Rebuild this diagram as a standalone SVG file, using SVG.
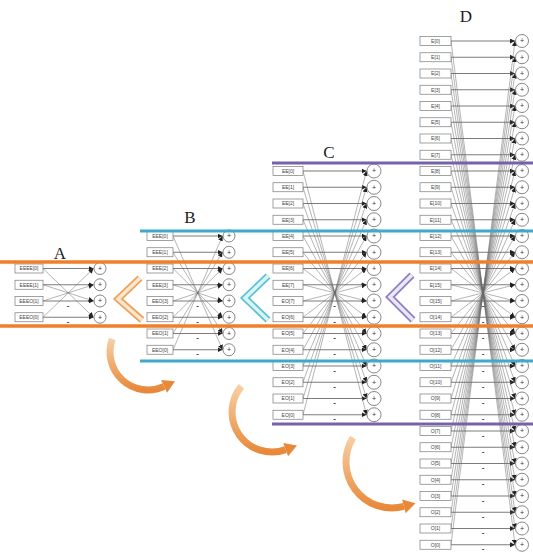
<svg xmlns="http://www.w3.org/2000/svg" width="533" height="556" viewBox="0 0 533 556">
<defs>
<style>
.bx{fill:#fff;stroke:#7a7a7a;stroke-width:0.7}
.lb{font-family:"Liberation Sans",Arial,sans-serif;font-size:5px;fill:#444;text-anchor:middle}
.ci{fill:#fff;stroke:#555;stroke-width:0.7}
.pl{font-family:"Liberation Sans",Arial,sans-serif;font-size:7px;fill:#333;text-anchor:middle}
.s{stroke:#444;stroke-width:0.7;fill:none;marker-end:url(#ah)}
.x{stroke:#6a6a6a;stroke-width:0.5;fill:none;marker-end:url(#ah)}
.mn{font-family:"Liberation Sans",Arial,sans-serif;font-size:8px;font-weight:bold;fill:#333;text-anchor:middle}
.ttl{font-family:"Liberation Serif","Times New Roman",serif;font-size:17px;fill:#222;text-anchor:middle}
.band-o{stroke:#f07f2a;stroke-width:3.5}
.band-t{stroke:#3fa9c6;stroke-width:3}
.band-p{stroke:#7463a8;stroke-width:3}
.arc{fill:none;stroke-width:7;stroke-linecap:butt}
</style>
<marker id="ah" viewBox="0 0 10 10" refX="10" refY="5" markerWidth="5" markerHeight="5" markerUnits="userSpaceOnUse" orient="auto"><path d="M0,0 L10,5 L0,10 z" fill="#222"/></marker>
<linearGradient id="og" x1="0" y1="0" x2="0" y2="1"><stop offset="0" stop-color="#f7cfa4"/><stop offset="1" stop-color="#e8893a"/></linearGradient>
</defs>
<rect width="533" height="556" fill="#fff"/>

<!-- titles -->
<text class="ttl" x="60" y="259">A</text>
<text class="ttl" x="190" y="223">B</text>
<text class="ttl" x="329" y="158">C</text>
<text class="ttl" x="466" y="22">D</text>

<g id="connectors">
<!-- A -->
<path class="s" d="M43 268.5H93.5"/><path class="s" d="M43 284.75H93.5"/><path class="s" d="M43 301H93.5"/><path class="s" d="M43 317.25H93.5"/>
<path class="x" d="M43 268.5L93.5 317.25"/><path class="x" d="M43 284.75L93.5 301"/><path class="x" d="M43 301L93.5 284.75"/><path class="x" d="M43 317.25L93.5 268.5"/>
<!-- B -->
<path class="s" d="M173 236H222.5"/><path class="s" d="M173 252.25H222.5"/><path class="s" d="M173 268.5H222.5"/><path class="s" d="M173 284.75H222.5"/>
<path class="s" d="M173 301H222.5"/><path class="s" d="M173 317.25H222.5"/><path class="s" d="M173 333.5H222.5"/><path class="s" d="M173 349.75H222.5"/>
<path class="x" d="M173 236L222.5 349.75"/><path class="x" d="M173 252.25L222.5 333.5"/><path class="x" d="M173 268.5L222.5 317.25"/><path class="x" d="M173 284.75L222.5 301"/>
<path class="x" d="M173 301L222.5 284.75"/><path class="x" d="M173 317.25L222.5 268.5"/><path class="x" d="M173 333.5L222.5 252.25"/><path class="x" d="M173 349.75L222.5 236"/>
<!-- C -->
<path class="s" d="M303 171H366.5"/><path class="s" d="M303 187.25H366.5"/><path class="s" d="M303 203.5H366.5"/><path class="s" d="M303 219.75H366.5"/>
<path class="s" d="M303 236H366.5"/><path class="s" d="M303 252.25H366.5"/><path class="s" d="M303 268.5H366.5"/><path class="s" d="M303 284.75H366.5"/>
<path class="s" d="M303 301H366.5"/><path class="s" d="M303 317.25H366.5"/><path class="s" d="M303 333.5H366.5"/><path class="s" d="M303 349.75H366.5"/>
<path class="s" d="M303 366H366.5"/><path class="s" d="M303 382.25H366.5"/><path class="s" d="M303 398.5H366.5"/><path class="s" d="M303 414.75H366.5"/>
<path class="x" d="M303 171L366.5 414.75"/><path class="x" d="M303 187.25L366.5 398.5"/><path class="x" d="M303 203.5L366.5 382.25"/><path class="x" d="M303 219.75L366.5 366"/>
<path class="x" d="M303 236L366.5 349.75"/><path class="x" d="M303 252.25L366.5 333.5"/><path class="x" d="M303 268.5L366.5 317.25"/><path class="x" d="M303 284.75L366.5 301"/>
<path class="x" d="M303 301L366.5 284.75"/><path class="x" d="M303 317.25L366.5 268.5"/><path class="x" d="M303 333.5L366.5 252.25"/><path class="x" d="M303 349.75L366.5 236"/>
<path class="x" d="M303 366L366.5 219.75"/><path class="x" d="M303 382.25L366.5 203.5"/><path class="x" d="M303 398.5L366.5 187.25"/><path class="x" d="M303 414.75L366.5 171"/>
<!-- D -->
<path class="s" d="M451 41H515"/><path class="s" d="M451 57.25H515"/><path class="s" d="M451 73.5H515"/><path class="s" d="M451 89.75H515"/>
<path class="s" d="M451 106H515"/><path class="s" d="M451 122.25H515"/><path class="s" d="M451 138.5H515"/><path class="s" d="M451 154.75H515"/>
<path class="s" d="M451 171H515"/><path class="s" d="M451 187.25H515"/><path class="s" d="M451 203.5H515"/><path class="s" d="M451 219.75H515"/>
<path class="s" d="M451 236H515"/><path class="s" d="M451 252.25H515"/><path class="s" d="M451 268.5H515"/><path class="s" d="M451 284.75H515"/>
<path class="s" d="M451 301H515"/><path class="s" d="M451 317.25H515"/><path class="s" d="M451 333.5H515"/><path class="s" d="M451 349.75H515"/>
<path class="s" d="M451 366H515"/><path class="s" d="M451 382.25H515"/><path class="s" d="M451 398.5H515"/><path class="s" d="M451 414.75H515"/>
<path class="s" d="M451 431H515"/><path class="s" d="M451 447.25H515"/><path class="s" d="M451 463.5H515"/><path class="s" d="M451 479.75H515"/>
<path class="s" d="M451 496H515"/><path class="s" d="M451 512.25H515"/><path class="s" d="M451 528.5H515"/><path class="s" d="M451 544.75H515"/>
<path class="x" d="M451 41L515 544.75"/><path class="x" d="M451 57.25L515 528.5"/><path class="x" d="M451 73.5L515 512.25"/><path class="x" d="M451 89.75L515 496"/>
<path class="x" d="M451 106L515 479.75"/><path class="x" d="M451 122.25L515 463.5"/><path class="x" d="M451 138.5L515 447.25"/><path class="x" d="M451 154.75L515 431"/>
<path class="x" d="M451 171L515 414.75"/><path class="x" d="M451 187.25L515 398.5"/><path class="x" d="M451 203.5L515 382.25"/><path class="x" d="M451 219.75L515 366"/>
<path class="x" d="M451 236L515 349.75"/><path class="x" d="M451 252.25L515 333.5"/><path class="x" d="M451 268.5L515 317.25"/><path class="x" d="M451 284.75L515 301"/>
<path class="x" d="M451 301L515 284.75"/><path class="x" d="M451 317.25L515 268.5"/><path class="x" d="M451 333.5L515 252.25"/><path class="x" d="M451 349.75L515 236"/>
<path class="x" d="M451 366L515 219.75"/><path class="x" d="M451 382.25L515 203.5"/><path class="x" d="M451 398.5L515 187.25"/><path class="x" d="M451 414.75L515 171"/>
<path class="x" d="M451 431L515 154.75"/><path class="x" d="M451 447.25L515 138.5"/><path class="x" d="M451 463.5L515 122.25"/><path class="x" d="M451 479.75L515 106"/>
<path class="x" d="M451 496L515 89.75"/><path class="x" d="M451 512.25L515 73.5"/><path class="x" d="M451 528.5L515 57.25"/><path class="x" d="M451 544.75L515 41"/>
</g>

<!-- minus marks -->
<g id="minus">
<text class="mn" x="68" y="307.5">-</text><text class="mn" x="68" y="323.75">-</text>
<text class="mn" x="197.5" y="307.5">-</text><text class="mn" x="197.5" y="323.75">-</text><text class="mn" x="197.5" y="340">-</text><text class="mn" x="197.5" y="356.25">-</text>
<text class="mn" x="334.5" y="307.5">-</text><text class="mn" x="334.5" y="323.75">-</text><text class="mn" x="334.5" y="340">-</text><text class="mn" x="334.5" y="356.25">-</text>
<text class="mn" x="334.5" y="372.5">-</text><text class="mn" x="334.5" y="388.75">-</text><text class="mn" x="334.5" y="405">-</text><text class="mn" x="334.5" y="421.25">-</text>
<text class="mn" x="483" y="307.5">-</text><text class="mn" x="483" y="323.75">-</text><text class="mn" x="483" y="340">-</text><text class="mn" x="483" y="356.25">-</text>
<text class="mn" x="483" y="372.5">-</text><text class="mn" x="483" y="388.75">-</text><text class="mn" x="483" y="405">-</text><text class="mn" x="483" y="421.25">-</text>
<text class="mn" x="483" y="437.5">-</text><text class="mn" x="483" y="453.75">-</text><text class="mn" x="483" y="470">-</text><text class="mn" x="483" y="486.25">-</text>
<text class="mn" x="483" y="502.5">-</text><text class="mn" x="483" y="518.75">-</text><text class="mn" x="483" y="535">-</text><text class="mn" x="483" y="551.25">-</text>
</g>

<!-- A nodes -->
<g id="A_i0" transform="translate(15,268.5)"><rect class="bx" y="-4.5" width="28" height="9"/><text class="lb" x="14" y="1.8">EEEE[0]</text></g>
<g id="A_i1" transform="translate(15,284.75)"><rect class="bx" y="-4.5" width="28" height="9"/><text class="lb" x="14" y="1.8">EEEE[1]</text></g>
<g id="A_i2" transform="translate(15,301)"><rect class="bx" y="-4.5" width="28" height="9"/><text class="lb" x="14" y="1.8">EEEO[1]</text></g>
<g id="A_i3" transform="translate(15,317.25)"><rect class="bx" y="-4.5" width="28" height="9"/><text class="lb" x="14" y="1.8">EEEO[0]</text></g>
<g id="A_o0" transform="translate(100,268.5)"><circle class="ci" r="6"/><text class="pl" y="2.3">+</text></g>
<g id="A_o1" transform="translate(100,284.75)"><circle class="ci" r="6"/><text class="pl" y="2.3">+</text></g>
<g id="A_o2" transform="translate(100,301)"><circle class="ci" r="6"/><text class="pl" y="2.3">+</text></g>
<g id="A_o3" transform="translate(100,317.25)"><circle class="ci" r="6"/><text class="pl" y="2.3">+</text></g>

<!-- B nodes -->
<g id="B_i0" transform="translate(147,236)"><rect class="bx" y="-4.5" width="26" height="9"/><text class="lb" x="13" y="1.8">EEE[0]</text></g>
<g id="B_i1" transform="translate(147,252.25)"><rect class="bx" y="-4.5" width="26" height="9"/><text class="lb" x="13" y="1.8">EEE[1]</text></g>
<g id="B_i2" transform="translate(147,268.5)"><rect class="bx" y="-4.5" width="26" height="9"/><text class="lb" x="13" y="1.8">EEE[2]</text></g>
<g id="B_i3" transform="translate(147,284.75)"><rect class="bx" y="-4.5" width="26" height="9"/><text class="lb" x="13" y="1.8">EEE[3]</text></g>
<g id="B_i4" transform="translate(147,301)"><rect class="bx" y="-4.5" width="26" height="9"/><text class="lb" x="13" y="1.8">EEO[3]</text></g>
<g id="B_i5" transform="translate(147,317.25)"><rect class="bx" y="-4.5" width="26" height="9"/><text class="lb" x="13" y="1.8">EEO[2]</text></g>
<g id="B_i6" transform="translate(147,333.5)"><rect class="bx" y="-4.5" width="26" height="9"/><text class="lb" x="13" y="1.8">EEO[1]</text></g>
<g id="B_i7" transform="translate(147,349.75)"><rect class="bx" y="-4.5" width="26" height="9"/><text class="lb" x="13" y="1.8">EEO[0]</text></g>
<g id="B_o0" transform="translate(229,236)"><circle class="ci" r="6"/><text class="pl" y="2.3">+</text></g>
<g id="B_o1" transform="translate(229,252.25)"><circle class="ci" r="6"/><text class="pl" y="2.3">+</text></g>
<g id="B_o2" transform="translate(229,268.5)"><circle class="ci" r="6"/><text class="pl" y="2.3">+</text></g>
<g id="B_o3" transform="translate(229,284.75)"><circle class="ci" r="6"/><text class="pl" y="2.3">+</text></g>
<g id="B_o4" transform="translate(229,301)"><circle class="ci" r="6"/><text class="pl" y="2.3">+</text></g>
<g id="B_o5" transform="translate(229,317.25)"><circle class="ci" r="6"/><text class="pl" y="2.3">+</text></g>
<g id="B_o6" transform="translate(229,333.5)"><circle class="ci" r="6"/><text class="pl" y="2.3">+</text></g>
<g id="B_o7" transform="translate(229,349.75)"><circle class="ci" r="6"/><text class="pl" y="2.3">+</text></g>

<!-- C nodes -->
<g id="C_i0" transform="translate(273,171)"><rect class="bx" y="-4.5" width="30" height="9"/><text class="lb" x="15" y="1.8">EE[0]</text></g>
<g id="C_i1" transform="translate(273,187.25)"><rect class="bx" y="-4.5" width="30" height="9"/><text class="lb" x="15" y="1.8">EE[1]</text></g>
<g id="C_i2" transform="translate(273,203.5)"><rect class="bx" y="-4.5" width="30" height="9"/><text class="lb" x="15" y="1.8">EE[2]</text></g>
<g id="C_i3" transform="translate(273,219.75)"><rect class="bx" y="-4.5" width="30" height="9"/><text class="lb" x="15" y="1.8">EE[3]</text></g>
<g id="C_i4" transform="translate(273,236)"><rect class="bx" y="-4.5" width="30" height="9"/><text class="lb" x="15" y="1.8">EE[4]</text></g>
<g id="C_i5" transform="translate(273,252.25)"><rect class="bx" y="-4.5" width="30" height="9"/><text class="lb" x="15" y="1.8">EE[5]</text></g>
<g id="C_i6" transform="translate(273,268.5)"><rect class="bx" y="-4.5" width="30" height="9"/><text class="lb" x="15" y="1.8">EE[6]</text></g>
<g id="C_i7" transform="translate(273,284.75)"><rect class="bx" y="-4.5" width="30" height="9"/><text class="lb" x="15" y="1.8">EE[7]</text></g>
<g id="C_i8" transform="translate(273,301)"><rect class="bx" y="-4.5" width="30" height="9"/><text class="lb" x="15" y="1.8">EO[7]</text></g>
<g id="C_i9" transform="translate(273,317.25)"><rect class="bx" y="-4.5" width="30" height="9"/><text class="lb" x="15" y="1.8">EO[6]</text></g>
<g id="C_i10" transform="translate(273,333.5)"><rect class="bx" y="-4.5" width="30" height="9"/><text class="lb" x="15" y="1.8">EO[5]</text></g>
<g id="C_i11" transform="translate(273,349.75)"><rect class="bx" y="-4.5" width="30" height="9"/><text class="lb" x="15" y="1.8">EO[4]</text></g>
<g id="C_i12" transform="translate(273,366)"><rect class="bx" y="-4.5" width="30" height="9"/><text class="lb" x="15" y="1.8">EO[3]</text></g>
<g id="C_i13" transform="translate(273,382.25)"><rect class="bx" y="-4.5" width="30" height="9"/><text class="lb" x="15" y="1.8">EO[2]</text></g>
<g id="C_i14" transform="translate(273,398.5)"><rect class="bx" y="-4.5" width="30" height="9"/><text class="lb" x="15" y="1.8">EO[1]</text></g>
<g id="C_i15" transform="translate(273,414.75)"><rect class="bx" y="-4.5" width="30" height="9"/><text class="lb" x="15" y="1.8">EO[0]</text></g>
<g id="C_o0" transform="translate(374,171)"><circle class="ci" r="7"/><text class="pl" y="2.3">+</text></g>
<g id="C_o1" transform="translate(374,187.25)"><circle class="ci" r="7"/><text class="pl" y="2.3">+</text></g>
<g id="C_o2" transform="translate(374,203.5)"><circle class="ci" r="7"/><text class="pl" y="2.3">+</text></g>
<g id="C_o3" transform="translate(374,219.75)"><circle class="ci" r="7"/><text class="pl" y="2.3">+</text></g>
<g id="C_o4" transform="translate(374,236)"><circle class="ci" r="7"/><text class="pl" y="2.3">+</text></g>
<g id="C_o5" transform="translate(374,252.25)"><circle class="ci" r="7"/><text class="pl" y="2.3">+</text></g>
<g id="C_o6" transform="translate(374,268.5)"><circle class="ci" r="7"/><text class="pl" y="2.3">+</text></g>
<g id="C_o7" transform="translate(374,284.75)"><circle class="ci" r="7"/><text class="pl" y="2.3">+</text></g>
<g id="C_o8" transform="translate(374,301)"><circle class="ci" r="7"/><text class="pl" y="2.3">+</text></g>
<g id="C_o9" transform="translate(374,317.25)"><circle class="ci" r="7"/><text class="pl" y="2.3">+</text></g>
<g id="C_o10" transform="translate(374,333.5)"><circle class="ci" r="7"/><text class="pl" y="2.3">+</text></g>
<g id="C_o11" transform="translate(374,349.75)"><circle class="ci" r="7"/><text class="pl" y="2.3">+</text></g>
<g id="C_o12" transform="translate(374,366)"><circle class="ci" r="7"/><text class="pl" y="2.3">+</text></g>
<g id="C_o13" transform="translate(374,382.25)"><circle class="ci" r="7"/><text class="pl" y="2.3">+</text></g>
<g id="C_o14" transform="translate(374,398.5)"><circle class="ci" r="7"/><text class="pl" y="2.3">+</text></g>
<g id="C_o15" transform="translate(374,414.75)"><circle class="ci" r="7"/><text class="pl" y="2.3">+</text></g>

<!-- D nodes -->
<g id="D_i0" transform="translate(420,41)"><rect class="bx" y="-4.5" width="31" height="9"/><text class="lb" x="15.5" y="1.8">E[0]</text></g>
<g id="D_i1" transform="translate(420,57.25)"><rect class="bx" y="-4.5" width="31" height="9"/><text class="lb" x="15.5" y="1.8">E[1]</text></g>
<g id="D_i2" transform="translate(420,73.5)"><rect class="bx" y="-4.5" width="31" height="9"/><text class="lb" x="15.5" y="1.8">E[2]</text></g>
<g id="D_i3" transform="translate(420,89.75)"><rect class="bx" y="-4.5" width="31" height="9"/><text class="lb" x="15.5" y="1.8">E[3]</text></g>
<g id="D_i4" transform="translate(420,106)"><rect class="bx" y="-4.5" width="31" height="9"/><text class="lb" x="15.5" y="1.8">E[4]</text></g>
<g id="D_i5" transform="translate(420,122.25)"><rect class="bx" y="-4.5" width="31" height="9"/><text class="lb" x="15.5" y="1.8">E[5]</text></g>
<g id="D_i6" transform="translate(420,138.5)"><rect class="bx" y="-4.5" width="31" height="9"/><text class="lb" x="15.5" y="1.8">E[6]</text></g>
<g id="D_i7" transform="translate(420,154.75)"><rect class="bx" y="-4.5" width="31" height="9"/><text class="lb" x="15.5" y="1.8">E[7]</text></g>
<g id="D_i8" transform="translate(420,171)"><rect class="bx" y="-4.5" width="31" height="9"/><text class="lb" x="15.5" y="1.8">E[8]</text></g>
<g id="D_i9" transform="translate(420,187.25)"><rect class="bx" y="-4.5" width="31" height="9"/><text class="lb" x="15.5" y="1.8">E[9]</text></g>
<g id="D_i10" transform="translate(420,203.5)"><rect class="bx" y="-4.5" width="31" height="9"/><text class="lb" x="15.5" y="1.8">E[10]</text></g>
<g id="D_i11" transform="translate(420,219.75)"><rect class="bx" y="-4.5" width="31" height="9"/><text class="lb" x="15.5" y="1.8">E[11]</text></g>
<g id="D_i12" transform="translate(420,236)"><rect class="bx" y="-4.5" width="31" height="9"/><text class="lb" x="15.5" y="1.8">E[12]</text></g>
<g id="D_i13" transform="translate(420,252.25)"><rect class="bx" y="-4.5" width="31" height="9"/><text class="lb" x="15.5" y="1.8">E[13]</text></g>
<g id="D_i14" transform="translate(420,268.5)"><rect class="bx" y="-4.5" width="31" height="9"/><text class="lb" x="15.5" y="1.8">E[14]</text></g>
<g id="D_i15" transform="translate(420,284.75)"><rect class="bx" y="-4.5" width="31" height="9"/><text class="lb" x="15.5" y="1.8">E[15]</text></g>
<g id="D_i16" transform="translate(420,301)"><rect class="bx" y="-4.5" width="31" height="9"/><text class="lb" x="15.5" y="1.8">O[15]</text></g>
<g id="D_i17" transform="translate(420,317.25)"><rect class="bx" y="-4.5" width="31" height="9"/><text class="lb" x="15.5" y="1.8">O[14]</text></g>
<g id="D_i18" transform="translate(420,333.5)"><rect class="bx" y="-4.5" width="31" height="9"/><text class="lb" x="15.5" y="1.8">O[13]</text></g>
<g id="D_i19" transform="translate(420,349.75)"><rect class="bx" y="-4.5" width="31" height="9"/><text class="lb" x="15.5" y="1.8">O[12]</text></g>
<g id="D_i20" transform="translate(420,366)"><rect class="bx" y="-4.5" width="31" height="9"/><text class="lb" x="15.5" y="1.8">O[11]</text></g>
<g id="D_i21" transform="translate(420,382.25)"><rect class="bx" y="-4.5" width="31" height="9"/><text class="lb" x="15.5" y="1.8">O[10]</text></g>
<g id="D_i22" transform="translate(420,398.5)"><rect class="bx" y="-4.5" width="31" height="9"/><text class="lb" x="15.5" y="1.8">O[9]</text></g>
<g id="D_i23" transform="translate(420,414.75)"><rect class="bx" y="-4.5" width="31" height="9"/><text class="lb" x="15.5" y="1.8">O[8]</text></g>
<g id="D_i24" transform="translate(420,431)"><rect class="bx" y="-4.5" width="31" height="9"/><text class="lb" x="15.5" y="1.8">O[7]</text></g>
<g id="D_i25" transform="translate(420,447.25)"><rect class="bx" y="-4.5" width="31" height="9"/><text class="lb" x="15.5" y="1.8">O[6]</text></g>
<g id="D_i26" transform="translate(420,463.5)"><rect class="bx" y="-4.5" width="31" height="9"/><text class="lb" x="15.5" y="1.8">O[5]</text></g>
<g id="D_i27" transform="translate(420,479.75)"><rect class="bx" y="-4.5" width="31" height="9"/><text class="lb" x="15.5" y="1.8">O[4]</text></g>
<g id="D_i28" transform="translate(420,496)"><rect class="bx" y="-4.5" width="31" height="9"/><text class="lb" x="15.5" y="1.8">O[3]</text></g>
<g id="D_i29" transform="translate(420,512.25)"><rect class="bx" y="-4.5" width="31" height="9"/><text class="lb" x="15.5" y="1.8">O[2]</text></g>
<g id="D_i30" transform="translate(420,528.5)"><rect class="bx" y="-4.5" width="31" height="9"/><text class="lb" x="15.5" y="1.8">O[1]</text></g>
<g id="D_i31" transform="translate(420,544.75)"><rect class="bx" y="-4.5" width="31" height="9"/><text class="lb" x="15.5" y="1.8">O[0]</text></g>
<g id="D_o0" transform="translate(522,41)"><circle class="ci" r="6.5"/><text class="pl" y="2.3">+</text></g>
<g id="D_o1" transform="translate(522,57.25)"><circle class="ci" r="6.5"/><text class="pl" y="2.3">+</text></g>
<g id="D_o2" transform="translate(522,73.5)"><circle class="ci" r="6.5"/><text class="pl" y="2.3">+</text></g>
<g id="D_o3" transform="translate(522,89.75)"><circle class="ci" r="6.5"/><text class="pl" y="2.3">+</text></g>
<g id="D_o4" transform="translate(522,106)"><circle class="ci" r="6.5"/><text class="pl" y="2.3">+</text></g>
<g id="D_o5" transform="translate(522,122.25)"><circle class="ci" r="6.5"/><text class="pl" y="2.3">+</text></g>
<g id="D_o6" transform="translate(522,138.5)"><circle class="ci" r="6.5"/><text class="pl" y="2.3">+</text></g>
<g id="D_o7" transform="translate(522,154.75)"><circle class="ci" r="6.5"/><text class="pl" y="2.3">+</text></g>
<g id="D_o8" transform="translate(522,171)"><circle class="ci" r="6.5"/><text class="pl" y="2.3">+</text></g>
<g id="D_o9" transform="translate(522,187.25)"><circle class="ci" r="6.5"/><text class="pl" y="2.3">+</text></g>
<g id="D_o10" transform="translate(522,203.5)"><circle class="ci" r="6.5"/><text class="pl" y="2.3">+</text></g>
<g id="D_o11" transform="translate(522,219.75)"><circle class="ci" r="6.5"/><text class="pl" y="2.3">+</text></g>
<g id="D_o12" transform="translate(522,236)"><circle class="ci" r="6.5"/><text class="pl" y="2.3">+</text></g>
<g id="D_o13" transform="translate(522,252.25)"><circle class="ci" r="6.5"/><text class="pl" y="2.3">+</text></g>
<g id="D_o14" transform="translate(522,268.5)"><circle class="ci" r="6.5"/><text class="pl" y="2.3">+</text></g>
<g id="D_o15" transform="translate(522,284.75)"><circle class="ci" r="6.5"/><text class="pl" y="2.3">+</text></g>
<g id="D_o16" transform="translate(522,301)"><circle class="ci" r="6.5"/><text class="pl" y="2.3">+</text></g>
<g id="D_o17" transform="translate(522,317.25)"><circle class="ci" r="6.5"/><text class="pl" y="2.3">+</text></g>
<g id="D_o18" transform="translate(522,333.5)"><circle class="ci" r="6.5"/><text class="pl" y="2.3">+</text></g>
<g id="D_o19" transform="translate(522,349.75)"><circle class="ci" r="6.5"/><text class="pl" y="2.3">+</text></g>
<g id="D_o20" transform="translate(522,366)"><circle class="ci" r="6.5"/><text class="pl" y="2.3">+</text></g>
<g id="D_o21" transform="translate(522,382.25)"><circle class="ci" r="6.5"/><text class="pl" y="2.3">+</text></g>
<g id="D_o22" transform="translate(522,398.5)"><circle class="ci" r="6.5"/><text class="pl" y="2.3">+</text></g>
<g id="D_o23" transform="translate(522,414.75)"><circle class="ci" r="6.5"/><text class="pl" y="2.3">+</text></g>
<g id="D_o24" transform="translate(522,431)"><circle class="ci" r="6.5"/><text class="pl" y="2.3">+</text></g>
<g id="D_o25" transform="translate(522,447.25)"><circle class="ci" r="6.5"/><text class="pl" y="2.3">+</text></g>
<g id="D_o26" transform="translate(522,463.5)"><circle class="ci" r="6.5"/><text class="pl" y="2.3">+</text></g>
<g id="D_o27" transform="translate(522,479.75)"><circle class="ci" r="6.5"/><text class="pl" y="2.3">+</text></g>
<g id="D_o28" transform="translate(522,496)"><circle class="ci" r="6.5"/><text class="pl" y="2.3">+</text></g>
<g id="D_o29" transform="translate(522,512.25)"><circle class="ci" r="6.5"/><text class="pl" y="2.3">+</text></g>
<g id="D_o30" transform="translate(522,528.5)"><circle class="ci" r="6.5"/><text class="pl" y="2.3">+</text></g>
<g id="D_o31" transform="translate(522,544.75)"><circle class="ci" r="6.5"/><text class="pl" y="2.3">+</text></g>

<!-- chevrons -->
<g id="chev-A">
<polyline points="140,278 118,299 142,320" fill="none" stroke="#eba45f" stroke-width="7"/>
<polyline points="140,278 118,299 142,320" fill="none" stroke="#fde6cc" stroke-width="3.5"/>
</g>
<g id="chev-B">
<polyline points="268,276 245,298 268,320" fill="none" stroke="#5bc3cf" stroke-width="7"/>
<polyline points="268,276 245,298 268,320" fill="none" stroke="#daf4f6" stroke-width="3.5"/>
</g>
<g id="chev-C">
<polyline points="412,275 390,297 413,320" fill="none" stroke="#8d7fc0" stroke-width="7"/>
<polyline points="412,275 390,297 413,320" fill="none" stroke="#ebe7f6" stroke-width="3.5"/>
</g>

<!-- curved arrows -->
<g id="turn-1">
<path class="arc" d="M112.3 339 A38 38 0 0 0 164.1 386.4" stroke="url(#og)"/>
<polygon points="167.1,392.7 161.1,380.1 175,381.3" fill="#e8893a"/>
</g>
<g id="turn-2">
<path class="arc" d="M241.4 386.3 A40 40 0 0 0 285.7 449.6" stroke="url(#og)"/>
<polygon points="288.1,456.2 283.3,443 297,445.5" fill="#e8893a"/>
</g>
<g id="turn-3">
<path class="arc" d="M353 437.6 A46 46 0 0 0 403.9 506.4" stroke="url(#og)"/>
<polygon points="405.7,513.2 402.1,499.6 415.5,503.3" fill="#e8893a"/>
</g>

<!-- stage bands -->
<g id="bands">
<line class="band-p" x1="272" y1="163" x2="533" y2="163"/>
<line class="band-p" x1="272" y1="424" x2="533" y2="424"/>
<line class="band-t" x1="140" y1="231" x2="533" y2="231"/>
<line class="band-t" x1="140" y1="361" x2="533" y2="361"/>
<line class="band-o" x1="0" y1="262" x2="533" y2="262"/>
<line class="band-o" x1="0" y1="326" x2="533" y2="326"/>
</g>
</svg>
